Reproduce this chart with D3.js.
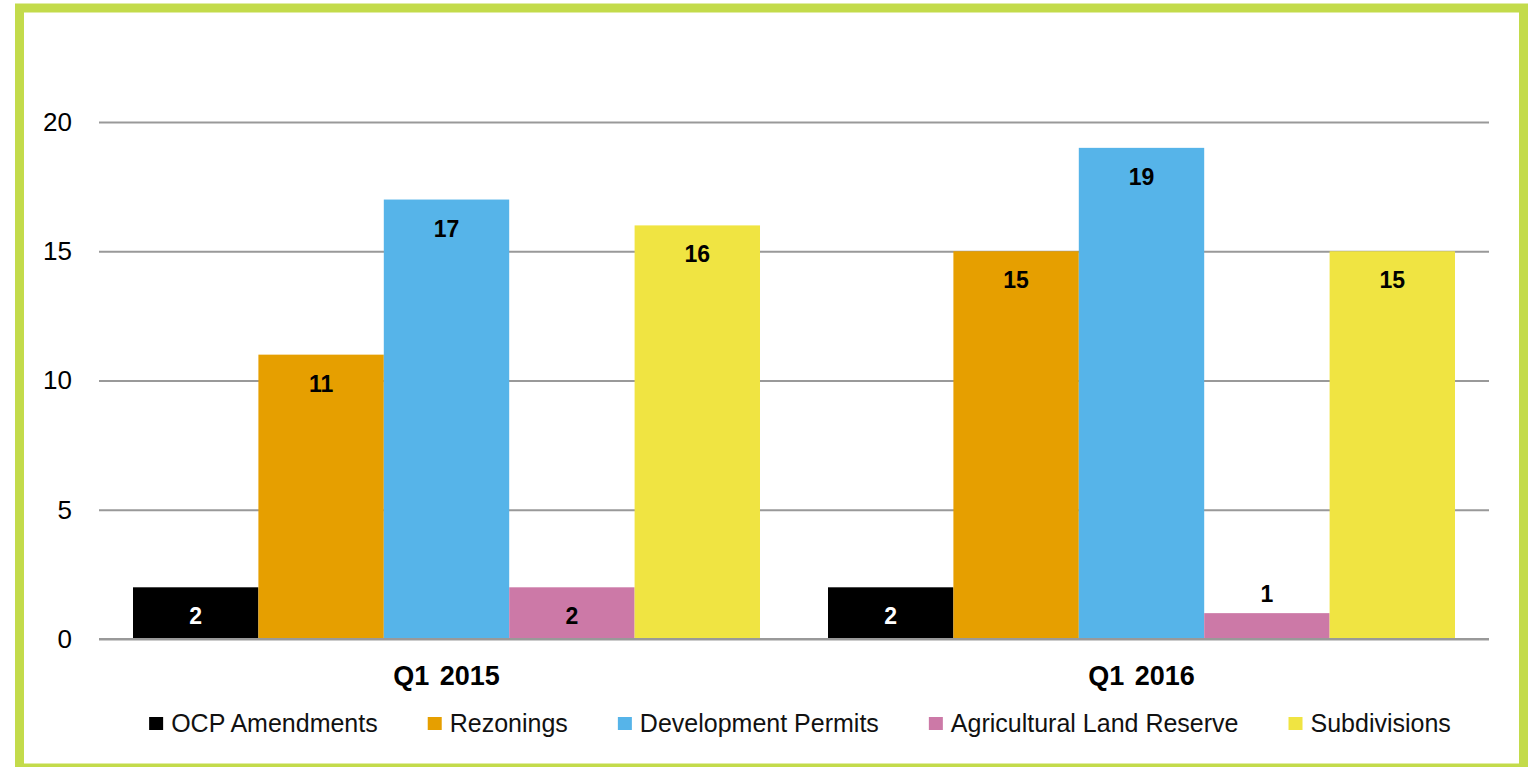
<!DOCTYPE html>
<html>
<head>
<meta charset="utf-8">
<script src="https://cdn.jsdelivr.net/npm/d3@7"></script>
<style>
  body { margin: 0; background: #fff; }
  text { font-family: "Liberation Sans", Arial, Helvetica, sans-serif; }
</style>
</head>
<body>
<script>
// applications by quarter
var quarters = ["Q1 2015", "Q1 2016"];
var seriesNames = ["OCP Amendments", "Rezonings", "Development Permits", "Agricultural Land Reserve", "Subdivisions"];
var seriesColors = ["#000000", "#E69F00", "#56B4E9", "#CC79A7", "#F0E442"];
var ocpValues = [2, 2];
var rezoningValues = [11, 15];
var devPermitValues = [17, 19];
var alrValues = [2, 1];
var subdivisionValues = [16, 15];
var yTicks = [0, 5, 10, 15, 20];

var seriesValues = [ocpValues, rezoningValues, devPermitValues, alrValues, subdivisionValues];

var width = 1528, height = 767;
var svg = d3.select("body").append("svg").attr("width", width).attr("height", height);

// green frame
svg.append("rect")
    .attr("x", 19.5).attr("y", 8)
    .attr("width", 1504).attr("height", 760)
    .style("fill", "#fff")
    .style("stroke", "#C3DB4B")
    .style("stroke-width", 9);

var plotLeft = 99, plotRight = 1489;
var y = d3.scaleLinear().domain([0, 20]).range([639, 122]);
var x0 = d3.scaleBand().domain(quarters).range([plotLeft, plotRight]).padding(0);
var x1 = d3.scaleBand().domain(seriesNames).range([34, x0.bandwidth() - 34]).padding(0);

// gridlines + tick labels
var yAxis = d3.axisLeft(y).tickValues(yTicks).tickSize(-(plotRight - plotLeft)).tickPadding(27);
var gy = svg.append("g").attr("transform", "translate(" + plotLeft + ",0)").call(yAxis);
gy.select(".domain").remove();
gy.selectAll(".tick line").style("stroke", "#999").style("stroke-width", 2);
gy.selectAll(".tick text")
    .style("font-size", "26px")
    .style("fill", "#000");

// bars
var groups = svg.selectAll("g.quarter")
    .data(quarters)
    .enter().append("g")
    .attr("class", "quarter")
    .attr("transform", function(d) { return "translate(" + x0(d) + ",0)"; });

groups.each(function(q, qi) {
    var g = d3.select(this);
    for (var s = 0; s < seriesNames.length; s++) {
        var v = seriesValues[s][qi];
        g.append("rect")
            .attr("x", x1(seriesNames[s]))
            .attr("y", y(v))
            .attr("width", x1.bandwidth())
            .attr("height", y(0) - y(v))
            .style("fill", seriesColors[s]);
        var inside = (y(0) - y(v)) > 40;
        g.append("text")
            .attr("x", x1(seriesNames[s]) + x1.bandwidth() / 2)
            .attr("y", inside ? y(v) + 37 : y(v) - 11)
            .attr("text-anchor", "middle")
            .style("font-size", "23px")
            .style("font-weight", "bold")
            .style("fill", (inside && s == 0) ? "#fff" : "#000")
            .text(v);
    }
});

// baseline
svg.append("line")
    .attr("x1", plotLeft).attr("x2", plotRight)
    .attr("y1", y(0)).attr("y2", y(0))
    .style("stroke", "#999").style("stroke-width", 2);

// category labels
svg.selectAll("text.cat")
    .data(quarters)
    .enter().append("text")
    .attr("class", "cat")
    .attr("x", function(d) { return x0(d) + x0.bandwidth() / 2; })
    .attr("y", 685)
    .attr("text-anchor", "middle")
    .style("font-size", "27px")
    .style("font-weight", "bold")
    .style("word-spacing", "3px")
    .text(function(d) { return d; });

// legend
var legend = svg.append("g");
var lx = 0;
for (var i = 0; i < seriesNames.length; i++) {
    var item = legend.append("g").attr("transform", "translate(" + lx + ",0)");
    item.append("rect")
        .attr("x", 0).attr("y", 717)
        .attr("width", 14).attr("height", 13)
        .style("fill", seriesColors[i]);
    var t = item.append("text")
        .attr("x", 22).attr("y", 732)
        .style("font-size", "25px")
        .style("fill", "#111")
        .text(seriesNames[i]);
    lx += 22 + t.node().getComputedTextLength() + 50;
}
var legendW = lx - 50;
legend.attr("transform", "translate(" + (800 - legendW / 2) + ",0)");
</script>
</body>
</html>
